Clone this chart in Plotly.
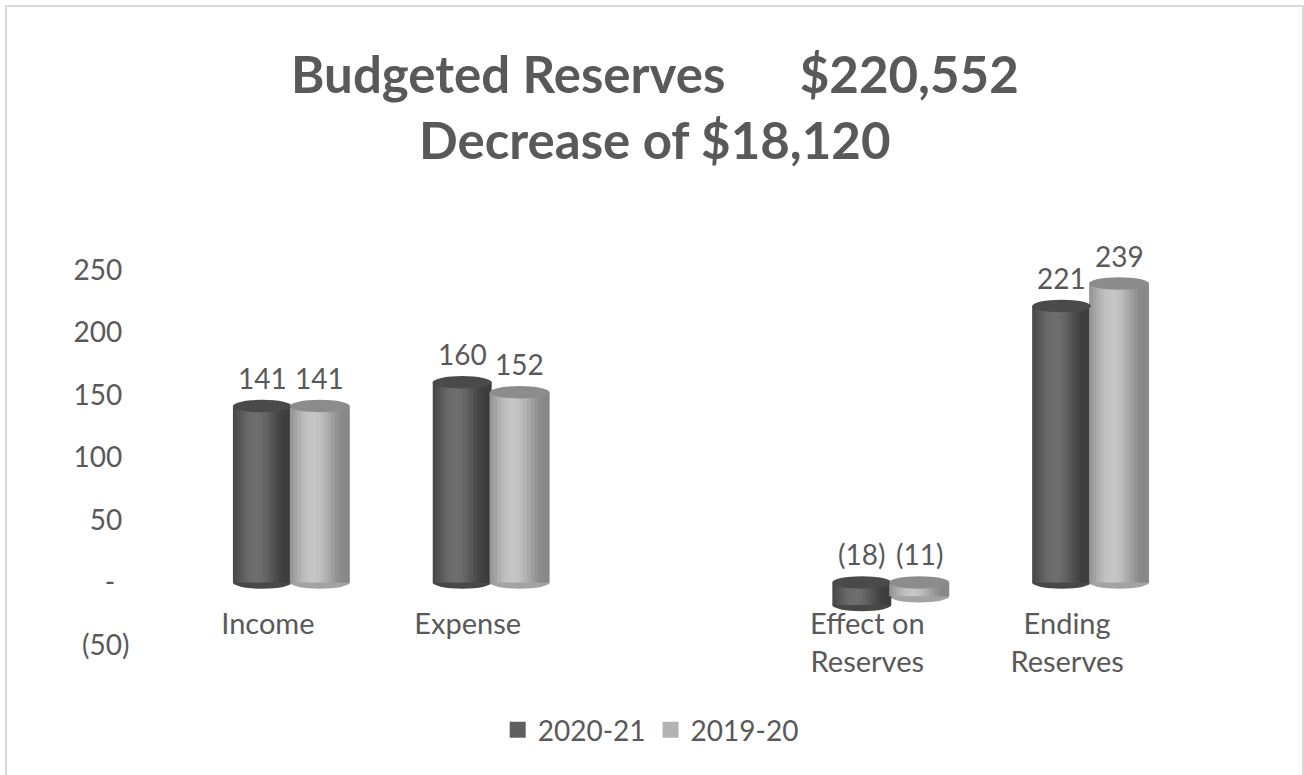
import math
import plotly.graph_objects as go

# ---- data (thousands of dollars) ----
categories = ["Income", "Expense", "", "Effect on<br>Reserves", "Ending<br>Reserves"]
series_names = ["2020-21", "2019-20"]
values_2020_21 = [141, 160, None, -18, 221]
values_2019_20 = [141, 152, None, -11, 239]
y_tick_vals = [-50, 0, 50, 100, 150, 200, 250]
y_tick_text = ["(50)", "-\u00a0\u00a0", "50\u00a0", "100\u00a0", "150\u00a0", "200\u00a0", "250\u00a0"]

title_line1 = "Budgeted Reserves\u00a0\u00a0\u00a0\u00a0\u00a0\u00a0$220,552"
title_line2 = "Decrease of $18,120"

# ---- styling ----
FONT = "Lato, 'Open Sans', sans-serif"
TEXT_COLOR = "#595959"
W, H = 1304, 775
M_L, M_R, M_T, M_B = 148, 117, 251, 130
Y_RANGE = [-50, 265]
X_RANGE = [-0.6, 4.6]

# cylinder look per series: offset/width in category units, shading colours
series_style = [
    dict(offset=-0.175, width=0.295, edge=(52, 52, 52), peak=(110, 110, 110),
         cap="#4a4a4a", base="#474747", legend="#5f5f5f"),
    dict(offset=0.11, width=0.30, edge=(125, 125, 125), peak=(198, 198, 198),
         cap="#8c8c8c", base="#a3a3a3", legend="#b3b3b3"),
]
N_STRIPS = 16


def shade(t, edge, peak):
    """t in [0,1] across the cylinder; highlight slightly left of centre."""
    theta = (t - 0.5) * math.pi           # -pi/2 .. pi/2 across the face
    light = -0.35                          # light direction (from the left)
    k = max(0.0, math.cos(theta - light)) ** 1.6
    k = 0.15 + 0.85 * k
    r, g, b = (int(round(e + (p - e) * k)) for e, p in zip(edge, peak))
    return f"rgb({r},{g},{b})"


x_pos = list(range(len(categories)))
all_values = [values_2020_21, values_2019_20]

fig = go.Figure()
shapes = []
annotations = []

for vals, name, st in zip(all_values, series_names, series_style):
    xs = [x for x, v in zip(x_pos, vals) if v is not None]
    ys = [v for v in vals if v is not None]
    step = st["width"] / N_STRIPS
    for j in range(N_STRIPS):
        t = (j + 0.5) / N_STRIPS
        w = step * 1.5 if j < N_STRIPS - 1 else step
        fig.add_trace(go.Bar(
            x=xs, y=ys, offset=st["offset"] + j * step, width=w,
            marker=dict(color=shade(t, st["edge"], st["peak"]), line=dict(width=0)),
            showlegend=False, hoverinfo="skip", name=name,
        ))
    # legend entry
    fig.add_trace(go.Scatter(
        x=[None], y=[None], mode="markers", name=name,
        marker=dict(symbol="square", size=18, color=st["legend"]),
    ))
    # caps, rounded bottoms and value labels
    for x, v in zip(xs, ys):
        x0 = x + st["offset"]
        x1 = x0 + st["width"]
        top = max(v, 0)
        bottom = min(v, 0)
        shapes.append(dict(type="circle", xref="x", yref="y", x0=x0, x1=x1,
                           y0=bottom - 5, y1=bottom + 5, fillcolor=st["base"],
                           line=dict(width=0), layer="below"))
        shapes.append(dict(type="circle", xref="x", yref="y", x0=x0, x1=x1,
                           y0=top - 5, y1=top + 5, fillcolor=st["cap"],
                           line=dict(width=0), layer="above"))
        label = f"({abs(v)})" if v < 0 else f"{v}"
        annotations.append(dict(x=(x0 + x1) / 2, y=top, xref="x", yref="y",
                                text=label, showarrow=False, yshift=28,
                                font=dict(family=FONT, size=28, color=TEXT_COLOR)))

# paper-coordinate helpers
plot_h = H - M_T - M_B
plot_w = W - M_L - M_R


def py(px):
    return (H - M_B - px) / plot_h


def pxx(px):
    return (px - M_L) / plot_w


# outer chart border
shapes.append(dict(type="rect", xref="paper", yref="paper",
                   x0=pxx(6), x1=pxx(1303), y0=py(790), y1=py(6),
                   line=dict(color="#d9d9d9", width=2), fillcolor="rgba(0,0,0,0)",
                   layer="below"))

# two-line title
annotations.append(dict(x=pxx(655), y=py(74), xref="paper", yref="paper",
                        text=f"<b>{title_line1}</b>", showarrow=False,
                        xanchor="center", yanchor="middle",
                        font=dict(family=FONT, size=51, color=TEXT_COLOR)))
annotations.append(dict(x=pxx(655), y=py(139), xref="paper", yref="paper",
                        text=f"<b>{title_line2}</b>", showarrow=False,
                        xanchor="center", yanchor="middle",
                        font=dict(family=FONT, size=51, color=TEXT_COLOR)))

fig.update_layout(
    width=W, height=H,
    margin=dict(l=M_L, r=M_R, t=M_T, b=M_B, autoexpand=False),
    paper_bgcolor="white", plot_bgcolor="white",
    barmode="overlay",
    font=dict(family=FONT, size=28, color=TEXT_COLOR),
    shapes=shapes, annotations=annotations,
    showlegend=True,
    legend=dict(orientation="h", xref="container", yref="container",
                x=0.499, y=1 - 730 / H, xanchor="center", yanchor="middle",
                font=dict(family=FONT, size=28, color=TEXT_COLOR),
                bgcolor="rgba(0,0,0,0)"),
    xaxis=dict(range=X_RANGE, tickvals=x_pos, ticktext=categories,
               showgrid=False, zeroline=False, showline=False, ticks="",
               anchor="free", position=py(604), fixedrange=True, automargin=False,
               tickfont=dict(family=FONT, size=29, color=TEXT_COLOR)),
    yaxis=dict(range=Y_RANGE, tickvals=y_tick_vals, ticktext=y_tick_text,
               showgrid=False, zeroline=False, showline=False,
               ticks="outside", ticklen=12, tickcolor="rgba(0,0,0,0)",
               fixedrange=True, automargin=False,
               tickfont=dict(family=FONT, size=28, color=TEXT_COLOR)),
)

fig.write_html("out.html")
